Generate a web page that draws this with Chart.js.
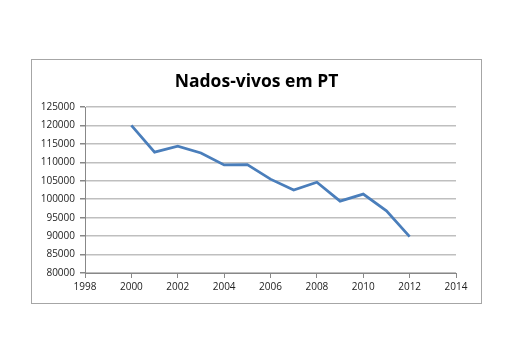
<!DOCTYPE html>
<html>
<head>
<meta charset="utf-8">
<script src="https://cdn.jsdelivr.net/npm/chart.js@4"></script>
<style>
	body { margin: 0; background: #fff; }
	#box {
		position: absolute;
		left: 31px; top: 59px;
		width: 449px; height: 243px;
		border: 1px solid #a6a6a6;
		background: #fff;
	}
</style>
</head>
<body>
<div id="box"><canvas id="births"></canvas></div>
<script>
// Nados-vivos em Portugal, 2000-2012
const years = [2000, 2001, 2002, 2003, 2004, 2005, 2006, 2007, 2008, 2009, 2010, 2011, 2012];
const births = [120008, 112774, 114383, 112515, 109298, 109399, 105449, 102492, 104594, 99491, 101381, 96856, 89841];
const xTicks = [1998, 2000, 2002, 2004, 2006, 2008, 2010, 2012, 2014];
const yTicks = [80000, 85000, 90000, 95000, 100000, 105000, 110000, 115000, 120000, 125000];

const points = years.map((y, i) => ({ x: y, y: births[i] }));

const ctx = document.getElementById('births').getContext('2d');
new Chart(ctx, {
	type: 'line',
	data: {
		datasets: [{
			label: 'Nados-vivos',
			data: points,
			borderColor: '#4a7ebb',
			borderWidth: 2.75,
			pointRadius: 0,
			tension: 0,
			fill: false
		}]
	},
	options: {
		responsive: true,
		maintainAspectRatio: false,
		animation: false,
		layout: { padding: 0 },
		plugins: {
			legend: { display: false },
			tooltip: { enabled: false },
			title: {
				display: true,
				text: 'Nados-vivos em PT',
				color: '#000',
				font: { family: 'Open Sans', size: 17.5, weight: 'bold' },
				padding: { top: 12, bottom: 14 }
			}
		},
		scales: {
			x: {
				type: 'linear',
				min: xTicks[0],
				max: xTicks[xTicks.length - 1],
				afterBuildTicks: (scale) => { scale.ticks = xTicks.map(v => ({ value: v })); },
				afterFit: (scale) => { scale.height = 30; scale.paddingRight = 25; },
				ticks: {
					color: '#222',
					font: { family: 'Open Sans', size: 10 },
					padding: 3,
					maxRotation: 0,
					callback: (v) => String(v)
				},
				grid: { drawOnChartArea: false, drawTicks: true, tickLength: 5, color: '#888' },
				border: { display: true, color: '#888', width: 1 }
			},
			y: {
				min: yTicks[0],
				max: yTicks[yTicks.length - 1],
				afterBuildTicks: (scale) => { scale.ticks = yTicks.map(v => ({ value: v })); },
				afterFit: (scale) => { scale.width = 53; },
				ticks: {
					color: '#222',
					font: { family: 'Open Sans', size: 10 },
					padding: 5,
					callback: (v) => String(v)
				},
				grid: { color: '#bfbfbf', lineWidth: 1.5, tickLength: 5, tickColor: '#888' },
				border: { display: true, color: '#888', width: 1 }
			}
		}
	}
});
</script>
</body>
</html>
